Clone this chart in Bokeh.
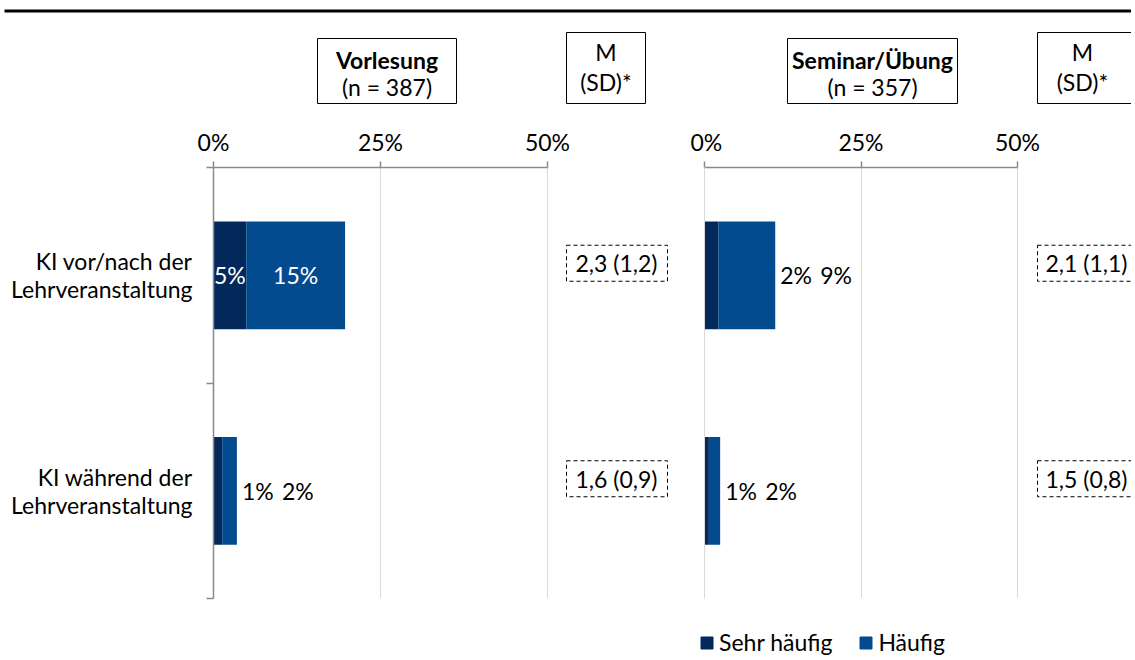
from bokeh.plotting import figure
from bokeh.models import (ColumnDataSource, Range1d, FixedTicker, PrintfTickFormatter,
                          Label, BoxAnnotation, Legend, LegendItem)
from bokeh.layouts import column, row
from bokeh.core.properties import value
from bokeh.embed import file_html
from bokeh.resources import INLINE

# ---------------- data ----------------
categories = ["KI vor/nach der\nLehrveranstaltung", "KI während der\nLehrveranstaltung"]
series = ["Sehr häufig", "Häufig"]
panel_titles = ["Vorlesung", "Seminar/Übung"]
panel_n = [387, 357]
vorlesung_sehr = [4.9, 1.3]
vorlesung_haeufig = [14.8, 2.2]
seminar_sehr = [2.2, 0.7]
seminar_haeufig = [9.1, 1.8]
vorlesung_m = [2.3, 1.6]
vorlesung_sd = [1.2, 0.9]
seminar_m = [2.1, 1.5]
seminar_sd = [1.1, 0.8]
x_ticks = [0, 25, 50]

# ---------------- style / layout ----------------
FONT = "Lato"
FS = "23px"
DARK = "#03295a"
BLUE = "#034b8f"
AXIS_C = "#8a8a8a"
GRID_C = "#d9d9d9"

TOTAL_W = 1131
HEAD_H = 118
FRAME_TOP = 167
FRAME_BOTTOM = 598
MAIN_BOTTOM = 604
PAGE_BOTTOM = 656
ROW_PX = (FRAME_BOTTOM - FRAME_TOP) / 2.0


def base_fig(**kw):
    p = figure(output_backend="svg", toolbar_location=None, **kw)
    p.outline_line_color = None
    p.background_fill_color = "white"
    p.border_fill_color = "white"
    p.xgrid.visible = False
    p.ygrid.visible = False
    return p


def box(**kw):
    return BoxAnnotation(fill_alpha=0, line_color="black", line_alpha=1, **kw)


def txt_label(x, y, text, bold=False, align="center"):
    return Label(x=x, y=y, text=text, text_font=FONT, text_font_size=FS,
                 text_font_style="bold" if bold else "normal",
                 text_align=align, text_baseline="middle", text_color="black")


# ---------- header: rule line and the boxed panel titles ----------
head = base_fig(width=TOTAL_W, height=HEAD_H, x_range=Range1d(0, TOTAL_W),
                y_range=Range1d(HEAD_H, 0), x_axis_location=None, y_axis_location=None,
                min_border=0)
head.add_layout(BoxAnnotation(left=4, top=9, bottom=12, fill_color="black", fill_alpha=1,
                              line_color=None))
title_boxes = [(317, 456), (787, 957)]
m_boxes = [(566, 645), (1037, 1160)]
m_centers = [605.5, 1082]
for i in range(2):
    l, r = title_boxes[i]
    head.add_layout(box(left=l, right=r, top=38, bottom=103, line_width=1))
    head.add_layout(txt_label((l + r) / 2, 59, panel_titles[i], bold=True))
    head.add_layout(txt_label((l + r) / 2, 86, f"(n = {panel_n[i]})"))
    l, r = m_boxes[i]
    head.add_layout(box(left=l, right=r, top=32, bottom=103, line_width=1))
    head.add_layout(txt_label(m_centers[i], 51, "M"))
    head.add_layout(txt_label(m_centers[i], 81, "(SD)*"))


def make_panel(sehr, haeufig, ms, sds, fig_left, fig_right, frame_left, px_per_pct,
               val_box, show_yaxis):
    fw = fig_right - frame_left

    def X(px):
        return (px - frame_left) / px_per_pct

    p = base_fig(frame_width=fw, frame_height=FRAME_BOTTOM - FRAME_TOP,
                 x_range=Range1d(0, fw / px_per_pct), y_range=Range1d(2, 0),
                 x_axis_location="above", y_axis_location="left",
                 min_border=0, min_border_left=frame_left - fig_left, min_border_right=0,
                 min_border_top=FRAME_TOP - HEAD_H, min_border_bottom=MAIN_BOTTOM - FRAME_BOTTOM)

    ys = [0.5, 1.5]
    src = ColumnDataSource(dict(y=ys, sehr=sehr, haeufig=haeufig))
    p.hbar_stack(["sehr", "haeufig"], y="y", height=0.5, color=[DARK, BLUE],
                 line_color=None, source=src)

    xa = p.xaxis[0]
    xa.ticker = FixedTicker(ticks=x_ticks, minor_ticks=[])
    xa.formatter = PrintfTickFormatter(format="%d%%")
    xa.bounds = (0, 50)
    xa.axis_line_color = AXIS_C
    xa.axis_line_width = 1.5
    xa.major_tick_line_color = AXIS_C
    xa.major_tick_line_width = 1.5
    xa.major_tick_out = 6
    xa.major_tick_in = 0
    xa.major_label_standoff = 6
    xa.major_label_text_font = FONT
    xa.major_label_text_font_size = FS
    xa.major_label_text_color = "black"

    ya = p.yaxis[0]
    if show_yaxis:
        ya.ticker = FixedTicker(ticks=ys, minor_ticks=[0, 1, 2])
        ya.major_label_overrides = {ys[i]: categories[i] for i in range(2)}
        ya.axis_line_color = AXIS_C
        ya.axis_line_width = 1.5
        ya.major_tick_line_color = None
        ya.minor_tick_line_color = AXIS_C
        ya.minor_tick_line_width = 1.5
        ya.minor_tick_out = 7
        ya.minor_tick_in = 0
        ya.major_label_standoff = 14
        ya.major_label_text_font = FONT
        ya.major_label_text_font_size = FS
        ya.major_label_text_line_height = 1.0
        ya.major_label_text_color = "black"
        ya.major_label_text_align = "right"
    else:
        # the zero line of this panel, drawn like a grid line
        ya.ticker = FixedTicker(ticks=[])
        ya.axis_line_color = GRID_C
        ya.axis_line_width = 1
        ya.major_tick_line_color = None
        ya.minor_tick_line_color = None
        ya.major_label_text_font_size = "0px"

    p.xgrid.visible = True
    p.xgrid.grid_line_color = GRID_C
    p.xgrid.grid_line_width = 1
    p.xgrid.ticker = FixedTicker(ticks=x_ticks)

    # bar value labels
    lx, ly, lt, lc, loff, la = [], [], [], [], [], []
    for i in range(2):
        segs = [(0, sehr[i]), (sehr[i], sehr[i] + haeufig[i])]
        inside = all((b - a) * px_per_pct >= 30 for a, b in segs)
        total = sehr[i] + haeufig[i]
        for k, (a, b) in enumerate(segs):
            lt.append(f"{round(b - a):d}%")
            ly.append(ys[i])
            if inside:
                lx.append((a + b) / 2)
                lc.append("white")
                loff.append(0)
                la.append("center")
            else:
                lx.append(total)
                lc.append("black")
                loff.append(5 + 40 * k)
                la.append("left")
    lsrc = ColumnDataSource(dict(x=lx, y=ly, t=lt, c=lc, off=loff, al=la))
    p.text(x="x", y="y", text="t", text_color="c", x_offset="off", text_align="al",
           text_baseline="middle", text_font=value(FONT), text_font_size=FS, source=lsrc)

    # M (SD) boxes
    l, r, tx = val_box
    for i in range(2):
        cy = ys[i] - 12 / ROW_PX
        p.add_layout(box(left=X(l), right=X(r), top=cy - 18 / ROW_PX,
                         bottom=cy + 18 / ROW_PX, line_width=1, line_dash="4 3"))
        t = f"{ms[i]:.1f} ({sds[i]:.1f})".replace(".", ",")
        p.add_layout(txt_label(X(tx), cy, t, align="left"))
    return p


left = make_panel(vorlesung_sehr, vorlesung_haeufig, vorlesung_m, vorlesung_sd,
                  fig_left=0, fig_right=690, frame_left=213, px_per_pct=334 / 50,
                  val_box=(566, 667, 575), show_yaxis=True)
right = make_panel(seminar_sehr, seminar_haeufig, seminar_m, seminar_sd,
                   fig_left=690, fig_right=TOTAL_W, frame_left=704, px_per_pct=313 / 50,
                   val_box=(1037, 1160, 1045), show_yaxis=False)

# ---------- footer with the legend ----------
FOOT_H = PAGE_BOTTOM - MAIN_BOTTOM
foot = base_fig(width=TOTAL_W, height=FOOT_H, x_range=Range1d(0, TOTAL_W),
                y_range=Range1d(0, FOOT_H), x_axis_location=None, y_axis_location=None,
                min_border=0)
# legend swatches (placed outside the visible range; only their legend entries show)
leg_src = ColumnDataSource(dict(y=[-100], right=[1]))
r_dark = foot.hbar(y="y", right="right", height=1, color=DARK, source=leg_src)
r_blue = foot.hbar(y="y", right="right", height=1, color=BLUE, source=leg_src)
legend = Legend(items=[LegendItem(label=series[0], renderers=[r_dark]),
                       LegendItem(label=series[1], renderers=[r_blue])],
                orientation="horizontal", location=(699, 0),
                glyph_width=15, glyph_height=15, label_standoff=5, spacing=26,
                padding=0, margin=0, border_line_color=None, background_fill_alpha=0,
                label_text_font=FONT, label_text_font_size=FS, label_text_color="black")
foot.add_layout(legend)

layout = column(head, row(left, right, spacing=0), foot, spacing=0)

with open("out.html", "w") as f:
    f.write(file_html(layout, INLINE))
